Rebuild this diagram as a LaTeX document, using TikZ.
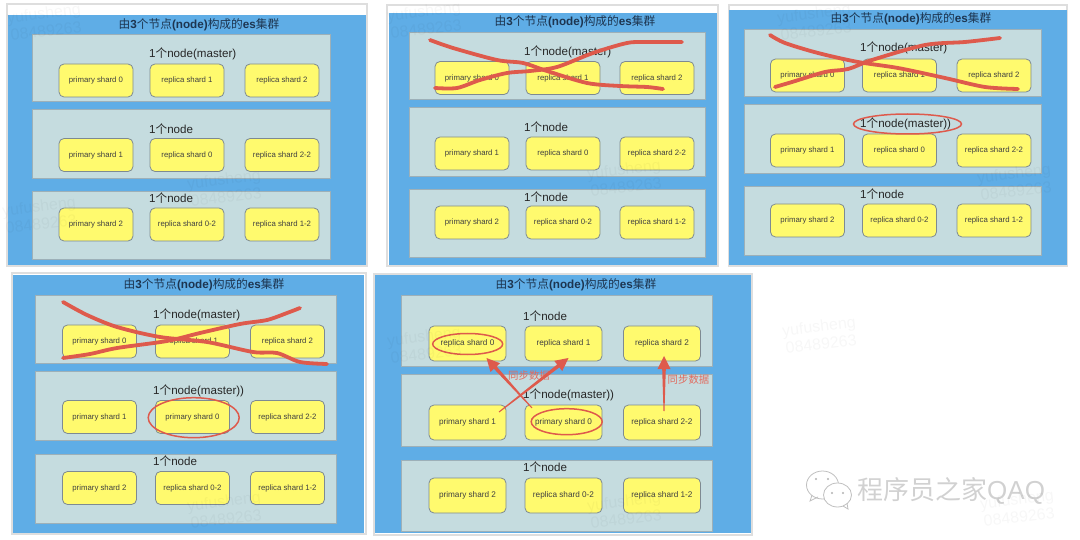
\documentclass[tikz,border=0pt]{standalone}
\usepackage{fontspec}
\setmainfont{Liberation Sans}
\newfontfamily\cjk{Noto Sans CJK SC}
\usetikzlibrary{calc,shapes.geometric}
\definecolor{clusterblue}{HTML}{5FADE6}
\definecolor{boxgreen}{HTML}{C5DCDF}
\definecolor{boxline}{HTML}{9DB0B8}
\definecolor{shardyellow}{HTML}{FFFA6E}
\definecolor{shardline}{HTML}{7E8A92}
\definecolor{inkred}{HTML}{DE5A4C}
\definecolor{titleink}{HTML}{1D3550}
\newcommand{\clustertitle}{{\cjk 由}\textbf{3}{\cjk 个节点}\textbf{(node)}{\cjk 构成的}\textbf{es}{\cjk 集群}}
\newcommand{\onenode}{1{\cjk 个}node}
\newcommand{\syncarrow}[2]{
  \coordinate (from) at #1;
  \coordinate (to) at #2;
  \coordinate (neck) at ($(to)!13pt!(from)$);
  \fill[inkred] ($(from)!.5pt!90:(to)$) -- ($(neck)!1.8pt!90:(to)$) -- ($(neck)!6.5pt!90:(to)$) -- (to)
    -- ($(neck)!6.5pt!-90:(to)$) -- ($(neck)!1.8pt!-90:(to)$) -- ($(from)!.5pt!-90:(to)$) -- cycle;
}
\tikzset{
  frame/.style={draw=black!13,line width=1.5pt,fill=white},
  cluster/.style={fill=clusterblue},
  nodebox/.style={draw=boxline,line width=.7pt,fill=boxgreen},
  shard/.style={draw=shardline,line width=.8pt,fill=shardyellow,rounded corners=5pt,
    minimum width=74pt,minimum height=33pt,inner sep=0pt,outer sep=0pt,
    text=black!75,font=\fontsize{7.8}{9}\selectfont},
  bigshard/.style={shard,minimum width=77pt,minimum height=35pt,font=\fontsize{8.2}{9}\selectfont},
  boxlabel/.style={anchor=west,inner sep=0pt,text=black!85,font=\fontsize{11.6}{13}\selectfont},
  clusterlabel/.style={inner sep=0pt,text=titleink,font=\fontsize{11.7}{13}\selectfont},
  scrawl/.style={draw=inkred,line width=3.8pt,line cap=round,line join=round},
  ring/.style={ellipse,draw=inkred,line width=1.5pt,inner sep=0pt},
  synclabel/.style={inner sep=0pt,text=inkred!90,font=\cjk\fontsize{10.4}{12}\selectfont},
  wmark/.style={align=center,rotate=7,text=black,text opacity=.03,inner sep=0pt,
    font=\fontsize{16}{18}\selectfont},
}
\begin{document}
\begin{tikzpicture}[x=1pt,y=-1pt]
\useasboundingbox (0,0) rectangle (1080,540);
% first picture
\draw[frame] (7,4) rectangle (367,266);
\fill[cluster] (8,15) rectangle (366,265);
\draw[nodebox] (32,34) rectangle (330,101);
\draw[nodebox] (32,109) rectangle (330,178);
\draw[nodebox] (32,191) rectangle (330,259);
\node[clusterlabel] (a) at (199,25) {\clustertitle};
\node[boxlabel] (a1) at (149,54) {\onenode(master)};
\node[boxlabel] (a2) at (149,129) {\onenode};
\node[boxlabel] (a3) at (149,198) {\onenode};
\node[shard] (a10) at (96,80.5) {primary shard 0};
\node[shard] (a11) at (187,80.5) {replica shard 1};
\node[shard] (a12) at (282,80.5) {replica shard 2};
\node[shard] (a20) at (96,155) {primary shard 1};
\node[shard] (a21) at (187,155) {replica shard 0};
\node[shard] (a22) at (282,155) {replica shard 2-2};
\node[shard] (a30) at (96,224.5) {primary shard 2};
\node[shard] (a31) at (187,224.5) {replica shard 0-2};
\node[shard] (a32) at (282,224.5) {replica shard 1-2};
% second picture
\draw[frame] (387,5) rectangle (718,266);
\fill[cluster] (389,13) rectangle (717,265);
\draw[nodebox] (409,32) rectangle (705,99);
\draw[nodebox] (409,107) rectangle (705,176);
\draw[nodebox] (409,189) rectangle (705,257);
\node[clusterlabel] (b) at (575,22) {\clustertitle};
\node[boxlabel] (b1) at (524,52) {\onenode(master)};
\node[boxlabel] (b2) at (524,127) {\onenode};
\node[boxlabel] (b3) at (524,197) {\onenode};
\node[shard] (b10) at (472,78) {primary shard 0};
\node[shard] (b11) at (563,78) {replica shard 1};
\node[shard] (b12) at (657,78) {replica shard 2};
\node[shard] (b20) at (472,153.5) {primary shard 1};
\node[shard] (b21) at (563,153.5) {replica shard 0};
\node[shard] (b22) at (657,153.5) {replica shard 2-2};
\node[shard] (b30) at (472,222.5) {primary shard 2};
\node[shard] (b31) at (563,222.5) {replica shard 0-2};
\node[shard] (b32) at (657,222.5) {replica shard 1-2};
\draw[scrawl] plot[smooth] coordinates {(430,40) (453,48) (497,60) (523,63) (547,71) (587,83) (620,86) (647,87) (663,89)};
\draw[scrawl] plot[smooth] coordinates {(435,88) (457,88) (480,80) (507,73) (530,71) (557,67) (593,53) (627,43) (647,42) (682,42)};
% third picture
\draw[frame] (729,5) rectangle (1067,266);
\fill[cluster] (729,10) rectangle (1067,265);
\draw[nodebox] (744,29) rectangle (1041,96);
\draw[nodebox] (744,104) rectangle (1041,173);
\draw[nodebox] (744,186) rectangle (1041,255);
\node[clusterlabel] (c) at (911,19) {\clustertitle};
\node[boxlabel] (c1) at (860,48) {\onenode(master)};
\node[boxlabel] (c2) at (860,124) {\onenode(master))};
\node[boxlabel] (c3) at (860,194) {\onenode};
\node[shard] (c10) at (807.5,75.5) {primary shard 0};
\node[shard] (c11) at (899.5,75.5) {replica shard 1};
\node[shard] (c12) at (994,75.5) {replica shard 2};
\node[shard] (c20) at (807.5,150.5) {primary shard 1};
\node[shard] (c21) at (899.5,150.5) {replica shard 0};
\node[shard] (c22) at (994,150.5) {replica shard 2-2};
\node[shard] (c30) at (807.5,220.5) {primary shard 2};
\node[shard] (c31) at (899.5,220.5) {replica shard 0-2};
\node[shard] (c32) at (994,220.5) {replica shard 1-2};
\draw[scrawl] plot[smooth] coordinates {(770,35) (785,43) (818,53) (858,62) (898,68) (945,78) (985,87) (1018,89)};
\draw[scrawl] plot[smooth] coordinates {(775,87) (792,82) (825,72) (848,69) (872,60) (925,45) (965,42) (1000,38)};
\node[ring,minimum width=108pt,minimum height=20pt] (cring) at (907.5,124) {};
% fourth picture
\draw[frame] (12,273) rectangle (366,534);
\fill[cluster] (13,275) rectangle (364,533);
\draw[nodebox] (35,295) rectangle (336,363);
\draw[nodebox] (35,371) rectangle (336,440);
\draw[nodebox] (35,454) rectangle (336,523);
\node[clusterlabel] (d) at (204,285) {\clustertitle};
\node[boxlabel] (d1) at (153,315) {\onenode(master)};
\node[boxlabel] (d2) at (153,391) {\onenode(master))};
\node[boxlabel] (d3) at (153,461) {\onenode};
\node[shard] (d10) at (99.5,341.5) {primary shard 0};
\node[shard] (d11) at (192.5,341.5) {replica shard 1};
\node[shard] (d12) at (287.5,341.5) {replica shard 2};
\node[shard] (d20) at (99.5,417) {primary shard 1};
\node[shard] (d21) at (192.5,417) {primary shard 0};
\node[shard] (d22) at (287.5,417) {replica shard 2-2};
\node[shard] (d30) at (99.5,488) {primary shard 2};
\node[shard] (d31) at (192.5,488) {replica shard 0-2};
\node[shard] (d32) at (287.5,488) {replica shard 1-2};
\draw[scrawl] plot[smooth] coordinates {(63,302) (87,315) (117,327) (160,337) (207,342) (253,352) (277,353) (300,362) (327,364)};
\draw[scrawl] plot[smooth] coordinates {(63,358) (90,354) (117,348) (167,341) (200,333) (240,324) (267,320) (287,313) (300,308)};
\node[ring,minimum width=91pt,minimum height=40pt] (dring) at (193.7,417.7) {};
% fifth picture
\draw[frame] (374,274) rectangle (752,535);
\fill[cluster] (375,275) rectangle (751,533);
\draw[nodebox] (401,295) rectangle (712,366);
\draw[nodebox] (401,374) rectangle (712,446);
\draw[nodebox] (401,460) rectangle (712,531);
\node[clusterlabel] (e) at (576,285) {\clustertitle};
\node[boxlabel] (e1) at (523,316) {\onenode};
\node[boxlabel] (e2) at (523,395) {\onenode(master))};
\node[boxlabel] (e3) at (523,467) {\onenode};
\node[bigshard] (e10) at (467.5,343.5) {replica shard 0};
\node[bigshard] (e11) at (563.5,343.5) {replica shard 1};
\node[bigshard] (e12) at (662,343.5) {replica shard 2};
\node[bigshard] (e20) at (467.5,422.5) {primary shard 1};
\node[bigshard] (e21) at (563.5,422.5) {primary shard 0};
\node[bigshard] (e22) at (662,422.5) {replica shard 2-2};
\node[bigshard] (e30) at (467.5,495.5) {primary shard 2};
\node[bigshard] (e31) at (563.5,495.5) {replica shard 0-2};
\node[bigshard] (e32) at (662,495.5) {replica shard 1-2};
\node[ring,minimum width=70pt,minimum height=21pt] (ering0) at (467.7,344) {};
\node[ring,minimum width=71pt,minimum height=26pt] (ering1) at (566.7,421.7) {};
\node[synclabel] (esync0) at (529,376) {同步数据};
\node[synclabel] (esync1) at (688.5,380) {同步数据};
\syncarrow{($(e21.north west)+(7,3)$)}{($(e10.south)+(19,-3)$)}
\syncarrow{($(e20.north east)+(-7,7)$)}{($(e11.south)+(5,-3)$)}
\syncarrow{($(e22.north)+(2,6)$)}{($(e12.south)+(2,-5)$)}
% account mark
\draw[draw=black!25,line width=.8pt,fill=white] (822.5,485) ellipse (16 and 14);
\draw[draw=black!25,line width=.8pt] (812,495) -- (810,501) -- (818,497);
\draw[draw=black!25,line width=.8pt,fill=white] (837.5,495) ellipse (14 and 12);
\draw[draw=black!25,line width=.8pt] (843,506) -- (848,509) -- (847,503);
\fill[black!30] (816,479) circle (1.2) (828,479) circle (1.2) (832,493) circle (1.2) (843,493) circle (1.2);
\node[anchor=west,inner sep=0pt,text=black!18,font=\fontsize{26}{28}\selectfont] (mark) at (857,491) {{\cjk 程序员之家}QAQ};
% watermarks
\node[wmark] (wm1) at (45,22) {yufusheng\\08489263};
\node[wmark] (wm2) at (225,188) {yufusheng\\08489263};
\node[wmark] (wm3) at (425,20) {yufusheng\\08489263};
\node[wmark] (wm4) at (625,178) {yufusheng\\08489263};
\node[wmark] (wm5) at (815,22) {yufusheng\\08489263};
\node[wmark] (wm6) at (1015,182) {yufusheng\\08489263};
\node[wmark] (wm7) at (40,215) {yufusheng\\08489263};
\node[wmark] (wm8) at (225,510) {yufusheng\\08489263};
\node[wmark] (wm9) at (425,345) {yufusheng\\08489263};
\node[wmark] (wm10) at (625,510) {yufusheng\\08489263};
\node[wmark] (wm11) at (820,335) {yufusheng\\08489263};
\node[wmark] (wm12) at (1018,508) {yufusheng\\08489263};
\end{tikzpicture}
\end{document}
